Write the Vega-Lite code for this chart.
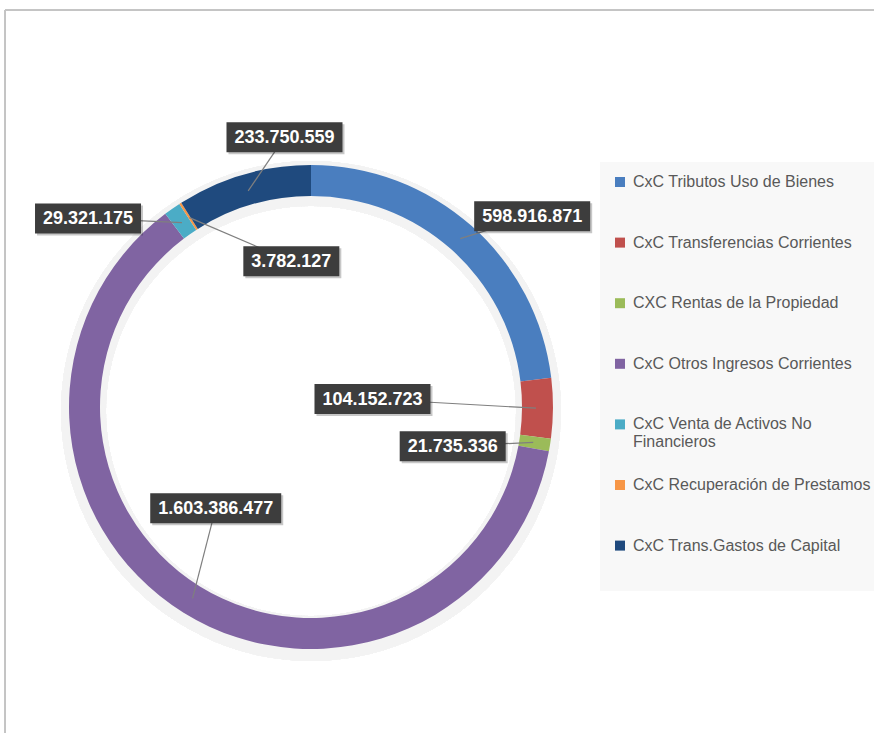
{
  "$schema": "https://vega.github.io/schema/vega-lite/v6.json",
  "width": 869,
  "height": 723,
  "autosize": {"type": "none"},
  "padding": {"left": 5, "top": 10, "right": 0, "bottom": 0},
  "background": "white",
  "config": {
    "view": {"stroke": null},
    "locale": {"number": {"decimal": ",", "thousands": ".", "grouping": [3], "currency": ["$", ""]}},
    "legend": {
      "orient": "none",
      "legendX": 595,
      "legendY": 152,
      "fillColor": "#f8f8f8",
      "padding": 12,
      "symbolType": "square",
      "symbolSize": 100,
      "symbolStrokeWidth": 0,
      "labelFont": "Liberation Sans",
      "labelFontSize": 16,
      "labelColor": "#595959",
      "labelOffset": 5,
      "rowPadding": 26.6,
      "gridAlign": "all",
      "labelLimit": 400,
      "titleOrient": "bottom",
      "titleFontSize": 12,
      "titlePadding": 14
    }
  },
  "data": {
    "values": [
      {"order": 1, "category": "CxC Tributos Uso de Bienes", "value": 598916871},
      {"order": 2, "category": "CxC Transferencias Corrientes", "value": 104152723},
      {"order": 3, "category": "CXC Rentas de la Propiedad", "value": 21735336},
      {"order": 4, "category": "CxC Otros Ingresos Corrientes", "value": 1603386477},
      {"order": 5, "category": "CxC Venta de Activos No Financieros", "value": 29321175},
      {"order": 6, "category": "CxC Recuperación de Prestamos", "value": 3782127},
      {"order": 7, "category": "CxC Trans.Gastos de Capital", "value": 233750559}
    ]
  },
  "transform": [
    {"stack": "value", "groupby": [], "sort": [{"field": "order"}], "as": ["v0", "v1"]},
    {"joinaggregate": [{"op": "sum", "field": "value", "as": "total"}]},
    {"calculate": "PI * (datum.v0 + datum.v1) / datum.total", "as": "a0"},
    {"calculate": "datum.a0 + [7.7, -7.7, 6.4, 11.5, -14.8, 25, 10.6][datum.order - 1] * PI / 180", "as": "a"},
    {"calculate": "[292, 62, 147, 139, 292, 147, 271][datum.order - 1]", "as": "R"},
    {"calculate": "datum.R * sin(datum.a)", "as": "lx"},
    {"calculate": "datum.R * cos(datum.a)", "as": "ly"},
    {"calculate": "225 * sin(datum.a0)", "as": "sx"},
    {"calculate": "225 * cos(datum.a0)", "as": "sy"},
    {"calculate": "length(toString(datum.value)) * 10 + floor((length(toString(datum.value)) - 1) / 3) * 5 + 16", "as": "w"},
    {"calculate": "datum.lx - datum.w / 2", "as": "bx0"},
    {"calculate": "datum.lx + datum.w / 2", "as": "bx1"},
    {"calculate": "datum.ly - 15", "as": "by0"},
    {"calculate": "datum.ly + 15", "as": "by1"},
    {"calculate": "datum.bx0 + 2", "as": "shx0"},
    {"calculate": "datum.bx1 + 2", "as": "shx1"},
    {"calculate": "datum.by0 - 2", "as": "shy0"},
    {"calculate": "datum.by1 - 2", "as": "shy1"}
  ],
  "layer": [
    {
      "mark": {"type": "rule", "color": "#c4c4c4", "strokeWidth": 1},
      "encoding": {
        "y": {"datum": 397, "type": "quantitative", "scale": {"domain": [-326, 397], "nice": false, "zero": false}, "axis": null}
      }
    },
    {
      "mark": {"type": "rule", "color": "#c4c4c4", "strokeWidth": 1},
      "encoding": {
        "x": {"datum": -306, "type": "quantitative", "scale": {"domain": [-306, 563], "nice": false, "zero": false}, "axis": null}
      }
    },
    {
      "mark": {"type": "arc", "outerRadius": 250, "innerRadius": 205, "fill": "#f3f3f3", "stroke": null},
      "encoding": {
        "x": {"datum": 0, "type": "quantitative", "scale": {"domain": [-306, 563], "nice": false, "zero": false}, "axis": null},
        "y": {"datum": -4, "type": "quantitative", "scale": {"domain": [-326, 397], "nice": false, "zero": false}, "axis": null}
      }
    },
    {
      "mark": {"type": "arc", "outerRadius": 242, "innerRadius": 211},
      "encoding": {
        "x": {"datum": 0, "type": "quantitative", "scale": {"domain": [-306, 563], "nice": false, "zero": false}, "axis": null},
        "y": {"datum": 0, "type": "quantitative", "scale": {"domain": [-326, 397], "nice": false, "zero": false}, "axis": null},
        "theta": {"field": "value", "type": "quantitative", "stack": true},
        "order": {"field": "order", "type": "quantitative", "sort": "ascending"},
        "color": {
          "field": "category",
          "type": "nominal",
          "sort": null,
          "scale": {
            "domain": ["CxC Tributos Uso de Bienes", "CxC Transferencias Corrientes", "CXC Rentas de la Propiedad", "CxC Otros Ingresos Corrientes", "CxC Venta de Activos No Financieros", "CxC Recuperación de Prestamos", "CxC Trans.Gastos de Capital"],
            "range": ["#4a7ebf", "#c0504d", "#9bbb59", "#8064a2", "#4bacc6", "#f79646", "#1f4a7e"]
          },
          "legend": {
            "title": " ",
            "labelExpr": "datum.label == 'CxC Venta de Activos No Financieros' ? ['CxC Venta de Activos No', 'Financieros'] : datum.label"
          }
        }
      }
    },
    {
      "mark": {"type": "rule", "color": "#7f7f7f", "strokeWidth": 1.2},
      "encoding": {
        "x": {"field": "sx", "type": "quantitative", "scale": {"domain": [-306, 563], "nice": false, "zero": false}, "axis": null},
        "y": {"field": "sy", "type": "quantitative", "scale": {"domain": [-326, 397], "nice": false, "zero": false}, "axis": null},
        "x2": {"field": "lx"},
        "y2": {"field": "ly"}
      }
    },
    {
      "mark": {"type": "rect", "color": "#000000", "opacity": 0.22},
      "encoding": {
        "x": {"field": "shx0", "type": "quantitative", "scale": {"domain": [-306, 563], "nice": false, "zero": false}, "axis": null},
        "x2": {"field": "shx1"},
        "y": {"field": "shy0", "type": "quantitative", "scale": {"domain": [-326, 397], "nice": false, "zero": false}, "axis": null},
        "y2": {"field": "shy1"}
      }
    },
    {
      "mark": {"type": "rect", "color": "#3d3d3d"},
      "encoding": {
        "x": {"field": "bx0", "type": "quantitative", "scale": {"domain": [-306, 563], "nice": false, "zero": false}, "axis": null},
        "x2": {"field": "bx1"},
        "y": {"field": "by0", "type": "quantitative", "scale": {"domain": [-326, 397], "nice": false, "zero": false}, "axis": null},
        "y2": {"field": "by1"}
      }
    },
    {
      "mark": {"type": "text", "color": "#ffffff", "font": "Liberation Sans", "fontWeight": "bold", "fontSize": 18, "baseline": "middle", "align": "center", "dy": 1},
      "encoding": {
        "x": {"field": "lx", "type": "quantitative", "scale": {"domain": [-306, 563], "nice": false, "zero": false}, "axis": null},
        "y": {"field": "ly", "type": "quantitative", "scale": {"domain": [-326, 397], "nice": false, "zero": false}, "axis": null},
        "text": {"field": "value", "type": "quantitative", "format": ",d"}
      }
    }
  ]
}
